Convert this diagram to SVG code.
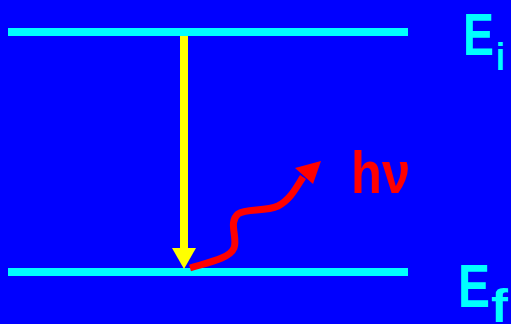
<svg xmlns="http://www.w3.org/2000/svg" width="511" height="324" viewBox="0 0 511 324">
<style>
.level{stroke:#00FFFF;stroke-width:8;fill:none}
.lbl{font-family:"Liberation Sans",Arial,sans-serif;font-weight:bold}
.cyan{fill:#00FFFF}
</style>
<rect x="0" y="0" width="511" height="324" fill="#0000FF"/>
<g id="level-Ei">
<line class="level" x1="8" y1="32" x2="408" y2="32"/>
<text class="lbl cyan" x="463" y="55" font-size="60"><tspan textLength="31" lengthAdjust="spacingAndGlyphs">E</tspan><tspan x="496" y="70" font-size="38" textLength="9" lengthAdjust="spacingAndGlyphs">i</tspan></text>
</g>
<g id="level-Ef">
<line class="level" x1="8" y1="272" x2="408" y2="272"/>
<text class="lbl cyan" x="458" y="307" font-size="62"><tspan textLength="32" lengthAdjust="spacingAndGlyphs">E</tspan><tspan x="491" y="322" font-size="46" textLength="17" lengthAdjust="spacingAndGlyphs">f</tspan></text>
</g>
<g id="photon-label">
<text class="lbl" x="351" y="193" font-size="60" fill="#FF0000" textLength="59" lengthAdjust="spacingAndGlyphs">hν</text>
</g>
<g id="connectors">
<line x1="184" y1="36" x2="184" y2="250" stroke="#FFFF00" stroke-width="8"/>
<polygon points="172,248 196,248 184,269" fill="#FFFF00"/>
<path d="M190,268 C210,262 230,258 234,248 C238,238 228,222 238,214 C246,208 265,212 278,206 C290,200 296,188 303,177" stroke="#FF0000" stroke-width="7" fill="none"/>
<polygon points="321,161 295,168 313,184" fill="#FF0000"/>
</g>
</svg>
